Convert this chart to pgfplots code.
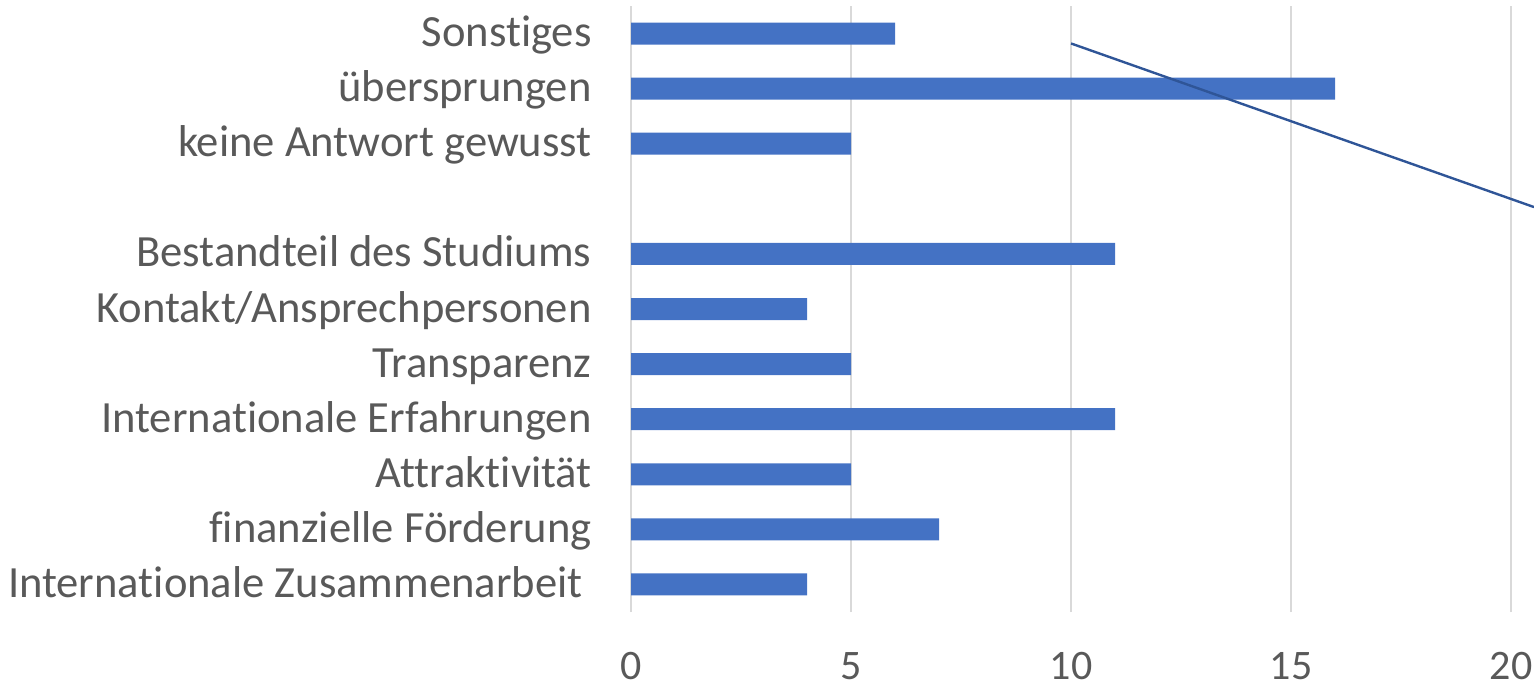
\documentclass[border=0pt]{standalone}
\usepackage{fontspec}
\setmainfont{Carlito}[Ligatures={NoCommon}]
\usepackage{pgfplots}
\pgfplotsset{compat=1.18}
\definecolor{barblue}{HTML}{4472C4}
\definecolor{lineblue}{HTML}{2F5597}
\definecolor{gridgray}{HTML}{D9D9D9}
\definecolor{txtgray}{HTML}{595959}
\begin{document}
\begin{tikzpicture}
\begin{axis}[
  at={(315.5pt,37.5pt)}, anchor=south west,
  scale only axis, width=451.5pt, height=303pt,
  xmin=0, xmax=20.52, ymin=-0.5, ymax=10.5,
  xtick={0,5,10,15,20},
  ytick={0,1,2,3,4,5,6,8,9,10},
  yticklabels={Internationale Zusammenarbeit\kern4.5pt,finanzielle Förderung,Attraktivität,Internationale Erfahrungen,Transparenz,Kontakt/Ansprechpersonen,Bestandteil des Studiums,keine Antwort gewusst,übersprungen,Sonstiges},
  xmajorgrids, grid style={gridgray, line width=0.75pt},
  axis line style={draw=none}, tick style={draw=none},
  /pgf/number format/assume math mode=true,
  xticklabel style={font=\fontsize{21}{24}\selectfont, text=txtgray, anchor=center, inner sep=0pt, yshift=-27pt},
  yticklabel style={font=\fontsize{22.3}{26}\selectfont, text=txtgray, anchor=base east, inner sep=0pt, xshift=-19.5pt, yshift=-6.5pt},
]
\addplot[xbar, bar width=11pt, fill=barblue, draw=none] coordinates {
  (4,0) (7,1) (5,2) (11,3) (5,4) (4,5) (11,6) (5,8) (16,9) (6,10)
};
\addplot[lineblue, line width=1.2pt, no marks] coordinates {(10,9.82) (20.52,6.85)};
\end{axis}
\pgfresetboundingbox
\path (0,0) rectangle (767pt,343.5pt);
\end{tikzpicture}
\end{document}
